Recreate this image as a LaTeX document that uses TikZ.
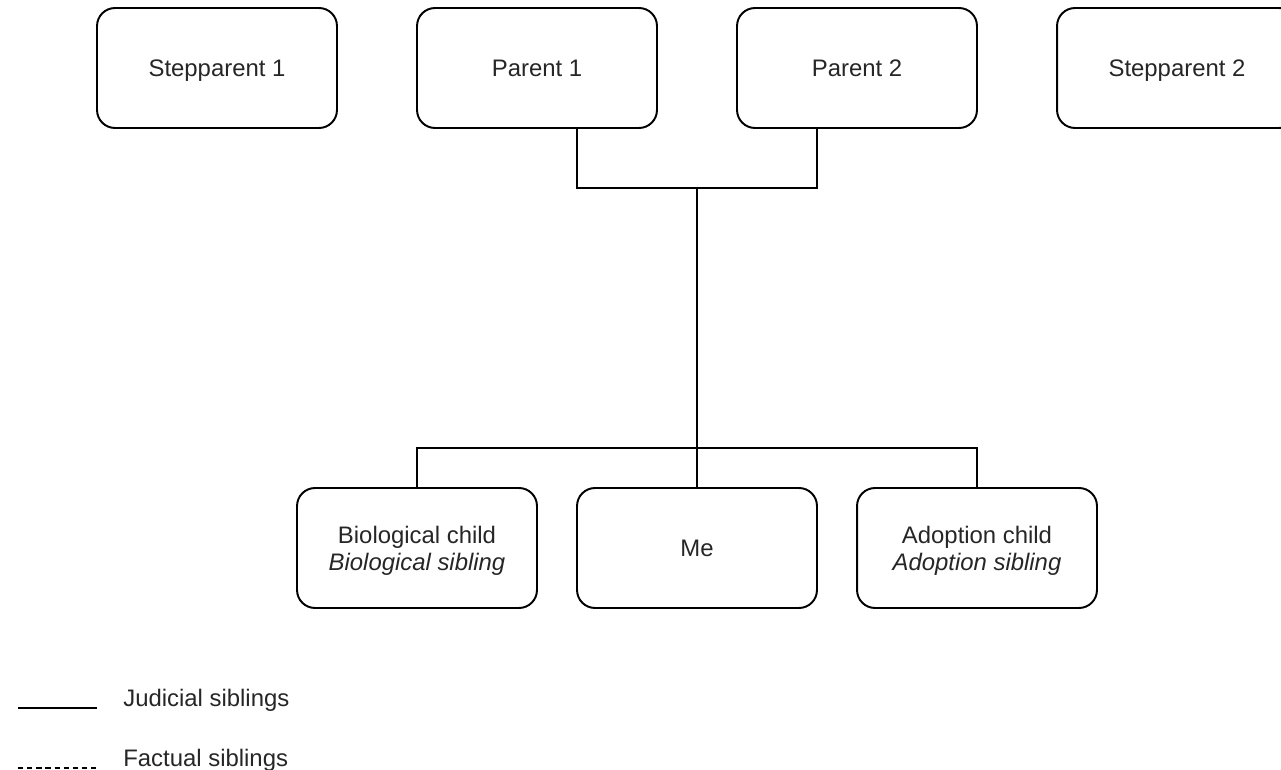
\documentclass[tikz,border=0pt]{standalone}
\usepackage{fontspec}
\setmainfont{Liberation Sans}
\usetikzlibrary{calc}

\begin{document}
\begin{tikzpicture}[x=0.02cm,y=-0.02cm,
        person/.style={draw,line width=1.1pt,rounded corners=0.36cm,
            minimum width=4.8cm,minimum height=2.4cm,align=center,
            text=black!85,font=\fontsize{13.6}{15.4}\selectfont},
        oneline/.style={person,text height=9.8pt,text depth=0pt},
        twoline/.style={person,text depth=0pt},
        link/.style={line width=1.1pt},
        factual/.style={line width=1.1pt,dash pattern=on 3pt off 2.2pt},
        legend/.style={anchor=base west,inner sep=0pt,text=black!85,
            font=\fontsize{13.6}{16}\selectfont}]

    \useasboundingbox (0,0) rectangle (1281,770);

    % parents
    \node[oneline] (S1) at (217,68) {Stepparent 1};
    \node[oneline] (P1) at (537,68) {Parent 1};
    \node[oneline] (P2) at (857,68) {Parent 2};
    \node[oneline] (S2) at (1177,68) {Stepparent 2};

    % children
    \node[twoline] (Bio) at (417,548) {Biological child\\\textit{Biological sibling}};
    \node[oneline] (Me) at (697,548) {Me};
    \node[twoline] (Adopt) at (977,548) {Adoption child\\\textit{Adoption sibling}};

    \coordinate (PJ) at (697,188);
    \coordinate (CJ) at (697,448);
    \draw[link] ($(P1.south)+(40,0)$) |- (PJ) -| ($(P2.south)+(-40,0)$);
    \draw[link] (PJ) -- (CJ);
    \draw[link] (Bio.north) |- (CJ) -| (Adopt.north);
    \draw[link] (CJ) -- (Me.north);

    % legend
    \coordinate (J1) at (18,708);
    \coordinate (J2) at (97,708);
    \coordinate (F1) at (18,768);
    \coordinate (F2) at (97,768);
    \draw[link] (J1) -- (J2);
    \draw[factual] (F1) -- (F2);
    \node[legend] (JL) at (123,706) {Judicial siblings};
    \node[legend] (FL) at (123,766) {Factual siblings};
\end{tikzpicture}
\end{document}
